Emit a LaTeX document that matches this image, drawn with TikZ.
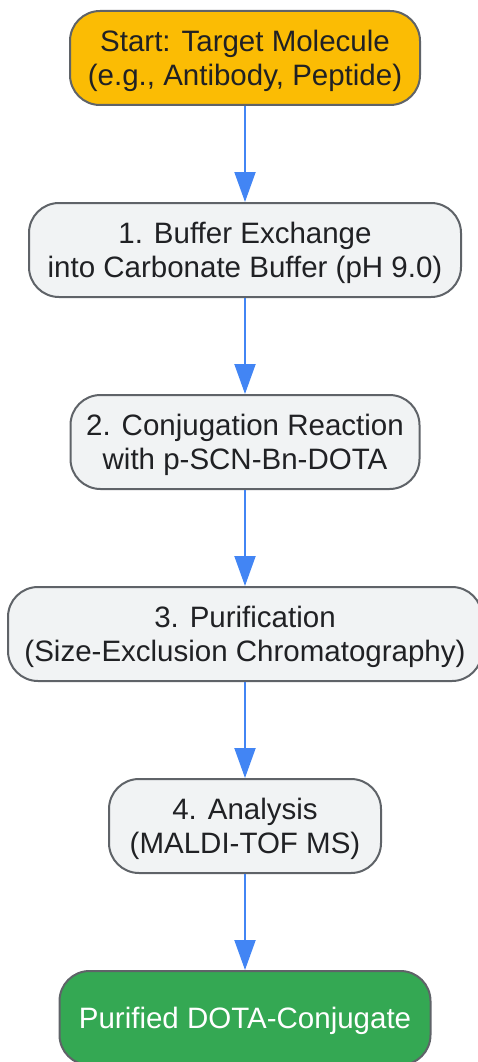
\documentclass[tikz,border=0pt]{standalone}
\usepackage{fontspec}
\setmainfont{Liberation Sans}
\usetikzlibrary{arrows.meta}
\definecolor{txt}{HTML}{202124}
\definecolor{edge}{HTML}{5F6368}
\definecolor{stepfill}{HTML}{F1F3F4}
\definecolor{startfill}{HTML}{FBBC04}
\definecolor{endfill}{HTML}{34A853}
\definecolor{arr}{HTML}{4285F4}
\newcommand{\lowerby}{\rule{0pt}{27pt}}
\begin{document}
\begin{tikzpicture}[x=1pt,y=-1pt,
  box/.style={draw=edge, line width=2pt, rounded corners=30pt, align=center,
    font=\fontsize{29.5}{34}\selectfont, text=txt, inner sep=0pt, minimum height=94pt},
  stepbox/.style={box, fill=stepfill},
  link/.style={draw=arr, line width=2pt, -{Triangle[length=30pt,width=21pt]}}]
\useasboundingbox (0,0) rectangle (478,1062);
\node[box, fill=startfill, minimum width=350pt] (s) at (245,58) {\lowerby Start: Target Molecule\\(e.g., Antibody, Peptide)};
\node[stepbox, minimum width=432pt] (a) at (245,250) {\lowerby 1. Buffer Exchange\\into Carbonate Buffer (pH 9.0)};
\node[stepbox, minimum width=349pt] (b) at (245,442) {\lowerby 2. Conjugation Reaction\\with p-SCN-Bn-DOTA};
\node[stepbox, minimum width=474pt] (c) at (245,634) {\lowerby 3. Purification\\(Size-Exclusion Chromatography)};
\node[stepbox, minimum width=272pt] (d) at (245,826) {\lowerby 4. Analysis\\(MALDI-TOF MS)};
\node[box, fill=endfill, text=white, minimum width=371pt] (e) at (245,1018) {\lowerby Purified DOTA-Conjugate};
\draw[link] (s) -- (a);
\draw[link] (a) -- (b);
\draw[link] (b) -- (c);
\draw[link] (c) -- (d);
\draw[link] (d) -- (e);
\end{tikzpicture}
\end{document}
